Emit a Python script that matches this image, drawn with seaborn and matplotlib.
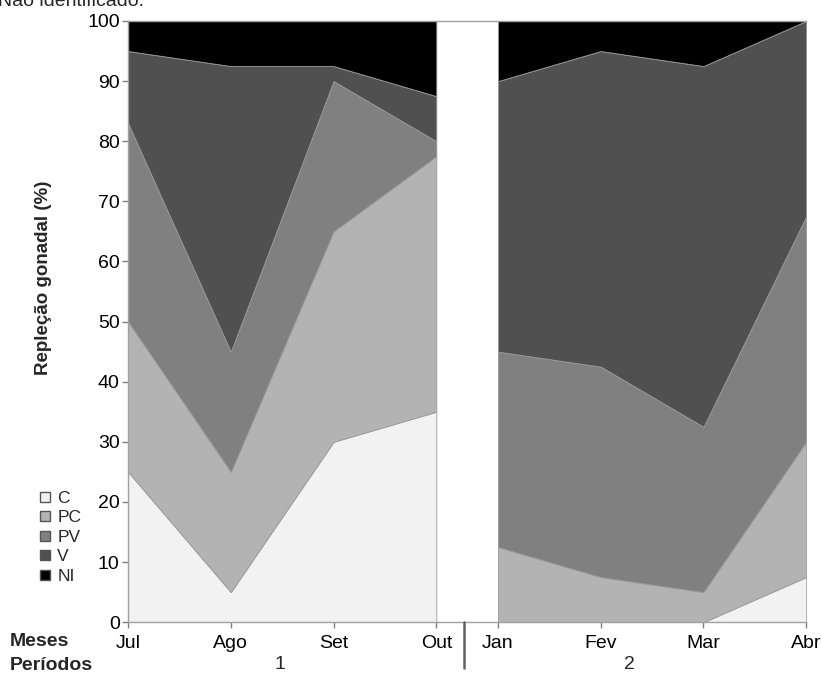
import numpy as np
import matplotlib
matplotlib.use("Agg")
import matplotlib.pyplot as plt
import seaborn as sns
from matplotlib.lines import Line2D

# months in each sampling period
months_p1 = ["Jul", "Ago", "Set", "Out"]
months_p2 = ["Jan", "Fev", "Mar", "Abr"]
x_p1 = [0.0, 1.0, 2.0, 3.0]
x_p2 = [3.6, 4.6, 5.6, 6.6]

categories = ["C", "PC", "PV", "V", "NI"]

# percentages per stage (period 1)
c_p1 = [25, 5, 30, 35]
pc_p1 = [25, 20, 35, 42.5]
pv_p1 = [33, 20, 25, 2.5]
v_p1 = [12, 47.5, 2.5, 7.5]
ni_p1 = [5, 7.5, 7.5, 12.5]

# percentages per stage (period 2)
c_p2 = [0, 0, 0, 7.5]
pc_p2 = [12.5, 7.5, 5, 22.5]
pv_p2 = [32.5, 35, 27.5, 37.5]
v_p2 = [45, 52.5, 60, 32.5]
ni_p2 = [10, 5, 7.5, 0]

periods = ["1", "2"]
colors = ["#f2f2f2", "#b3b3b3", "#808080", "#505050", "#000000"]

sns.set_theme(style="ticks")
plt.rcParams["font.family"] = ["Liberation Sans", "DejaVu Sans"]

fig = plt.figure(figsize=(8.21, 6.77), dpi=100)
ax = fig.add_axes([0.156, 0.081, 0.826, 0.888])

ax.stackplot(x_p1, c_p1, pc_p1, pv_p1, v_p1, ni_p1, colors=colors,
             edgecolor="#9a9a9a", linewidth=0.6)
ax.stackplot(x_p2, c_p2, pc_p2, pv_p2, v_p2, ni_p2, colors=colors,
             edgecolor="#9a9a9a", linewidth=0.6)

ax.set_xlim(0, 6.6)
ax.set_ylim(0, 100)
ax.set_yticks(range(0, 101, 10))
ax.set_xticks(x_p1 + x_p2)
ax.set_xticklabels(months_p1 + months_p2)
ax.tick_params(axis="both", labelsize=14, colors="#808080", labelcolor="black",
               length=4, width=1)
ax.tick_params(axis="y", pad=2)
ax.tick_params(axis="x", pad=5)

for side in ["left", "bottom", "top", "right"]:
    ax.spines[side].set_color("#a0a0a0")
    ax.spines[side].set_linewidth(1)
ax.spines["right"].set_visible(False)

ax.set_ylabel("Repleção gonadal (%)", fontsize=13.5, fontweight="bold")
ax.yaxis.set_label_coords(-0.112, 0.572)

# row labels below the axis
fig.text(0.012, 0.053, "Meses", fontsize=14, fontweight="bold", va="center", ha="left")
fig.text(0.012, 0.017, "Períodos", fontsize=14, fontweight="bold", va="center", ha="left")
fig.text(0.341, 0.019, periods[0], fontsize=14, va="center", ha="center")
fig.text(0.767, 0.019, periods[1], fontsize=14, va="center", ha="center")

# divider between periods
fig.add_artist(Line2D([464 / 821, 464 / 821], [1 - 622 / 677, 1 - 668 / 677],
                      color="#606060", linewidth=1.8))

# clipped caption line at the top
fig.text(0.175, 0.998, "Não identificado.", fontsize=14, va="center", ha="right")

handles = [plt.Line2D([], [], marker="s", linestyle="none", markersize=7,
                      markerfacecolor=col, markeredgecolor="#555555",
                      markeredgewidth=1) for col in colors]
fig.legend(handles, categories, loc="upper left", bbox_to_anchor=(0.036, 0.288),
           frameon=False, fontsize=12.5, handletextpad=0.3, labelspacing=0.25,
           handlelength=0.8, borderpad=0)

fig.savefig("out.png", dpi=100)
